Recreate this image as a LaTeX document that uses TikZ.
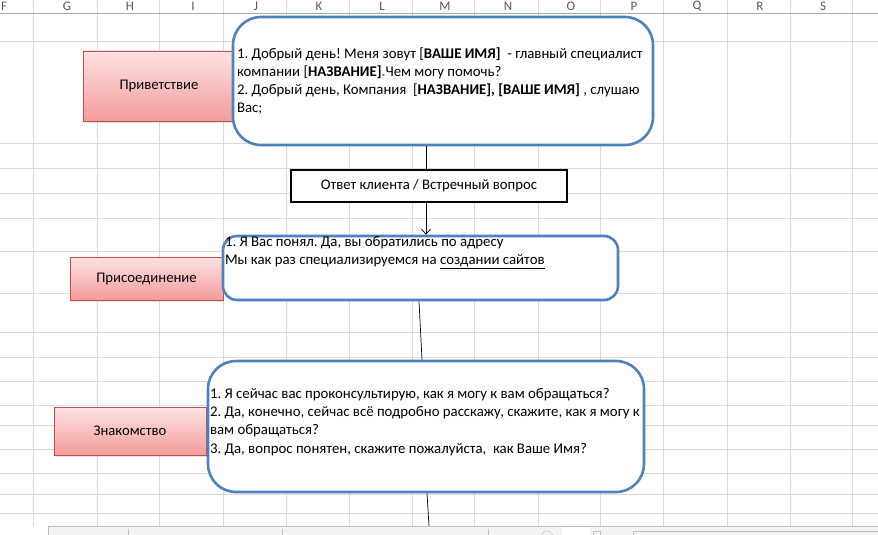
\documentclass[tikz,border=0pt]{standalone}
\usepackage{fontspec}
\setmainfont{Carlito}
\usepackage{xcolor}
\usetikzlibrary{shapes,arrows.meta,positioning,calc,shadows}
\frenchspacing

\definecolor{gridgray}{HTML}{DADADA}
\definecolor{headgray}{HTML}{A8A8A8}
\definecolor{headtext}{HTML}{595959}
\definecolor{cardblue}{HTML}{4F81BD}
\definecolor{tagred}{HTML}{C0504D}
\definecolor{tagtop}{HTML}{FDE2E2}
\definecolor{tagbottom}{HTML}{F49C9C}
\definecolor{barfill}{HTML}{F3F3F3}
\definecolor{bargray}{HTML}{BDBDBD}

\begin{document}
\begin{tikzpicture}[x=1pt,y=-1pt,
  card/.style={draw=cardblue,line width=2.6pt,fill=white,inner sep=0pt,font=\fontsize{14.8}{18.3}\selectfont},
  tag/.style={draw=tagred,line width=0.8pt,top color=tagtop,bottom color=tagbottom,font=\fontsize{14.7}{17}\selectfont,drop shadow={shadow xshift=1pt,shadow yshift=-1.5pt,opacity=0.2}},
  reply/.style={draw=black,line width=2.6pt,fill=white,font=\fontsize{14.7}{17}\selectfont},
  colhead/.style={text=headtext,inner sep=0pt,font=\fontsize{13}{13}\selectfont},
  link/.style={black,line width=0.7pt}]
\useasboundingbox (0,0) rectangle (878,535);
\clip (0,0) rectangle (878,535);

% sheet grid
\foreach \gx in {33,97,159,223,286,349,412,474,538,600,663,727,790,852}
  \draw[gridgray,line width=0.8pt] (\gx,0) -- (\gx,526);
\foreach \gy in {41,143,168,193,218,251,293,332,357,381,405,425,449,473,494,513}
  \draw[gridgray,line width=0.8pt] (0,\gy) -- (878,\gy);
\draw[headgray,line width=0.8pt] (0,13.5) -- (878,13.5);
\foreach \col [count=\i from 0] in {F,G,H,I,J,K,L,M,N,O,P,Q,R,S}
  \node[colhead] (col-\col) at (4+63*\i,6.5) {\col};

% stage labels
\node[tag,minimum width=152pt,minimum height=70pt] (greettag) at (159,86) {Приветствие};
\node[tag,minimum width=153pt,minimum height=43pt] (jointag) at (146.5,278.5) {Присоединение};
\node[tag,minimum width=152pt,minimum height=48pt] (meettag) at (130,431) {Знакомство};

% scripts
\node[card,rounded corners=28pt,minimum width=420pt,minimum height=128pt,font=\fontsize{14.8}{18}\selectfont] (greet) at (443,81)
  {\parbox{412pt}{\mbox{1. Добрый день! Меня зовут [\textbf{ВАШЕ ИМЯ]}~ - главный специалист}\\
  \mbox{компании [\textbf{НАЗВАНИЕ]}\textcolor{tagred}{\textbf{.}}Чем могу помочь?}\\
  \mbox{2. Добрый день, Компания~ [\textbf{НАЗВАНИЕ], [ВАШЕ ИМЯ]} , слушаю}\\
  Вас;}};
\node[reply,minimum width=276pt,minimum height=32pt] (answer) at (429,186) {Ответ клиента / Встречный вопрос};
\node[card,rounded corners=14pt,minimum width=395pt,minimum height=64pt] (join) at (420.5,268)
  {\parbox[c][64pt][t]{391pt}{\raggedright 1. Я Вас понял. Да, вы обратились по адресу\\
  Мы как раз специализируемся на \underline{создании сайтов}}};
\node[card,rounded corners=28pt,minimum width=436pt,minimum height=131pt] (meet) at (426,426.5)
  {\parbox[c][131pt][t]{432pt}{\raggedright\vspace*{27pt}1. Я сейчас вас проконсультирую, как я могу к вам обращаться?\\
  2. Да, конечно, сейчас всё подробно расскажу, скажите, как я могу к\\
  вам обращаться?\\
  3. Да, вопрос понятен, скажите пожалуйста,~ как Ваше Имя?}};

% connectors
\coordinate (axis) at (426,0);
\coordinate (tail) at (429,526);
\draw[link] (greet.south -| axis) -- (answer.north -| axis);
\draw[link,-{Straight Barb[length=5pt,width=9pt]}] (answer.south -| axis) -- (join.north -| axis);
\draw[link] ([xshift=-1.5pt]join.south) -- ([xshift=-4pt]meet.north);
\draw[link] ([xshift=1pt]meet.south) -- (tail);

% sheet tab bar
\fill[barfill] (48,526) rectangle (878,535);
\draw[bargray] (48,535) -- (48,526) -- (878,526);
\foreach \bx in {128,282,488}
  \draw[bargray] (\bx,529) -- (\bx,535);
\draw[bargray] (547,537) circle (6pt);
\fill[white] (562,526.5) rectangle (590,535);
\draw[bargray] (593,531) rectangle (600,540);
\draw[bargray] (633,531) rectangle (880,540);
\end{tikzpicture}
\end{document}
